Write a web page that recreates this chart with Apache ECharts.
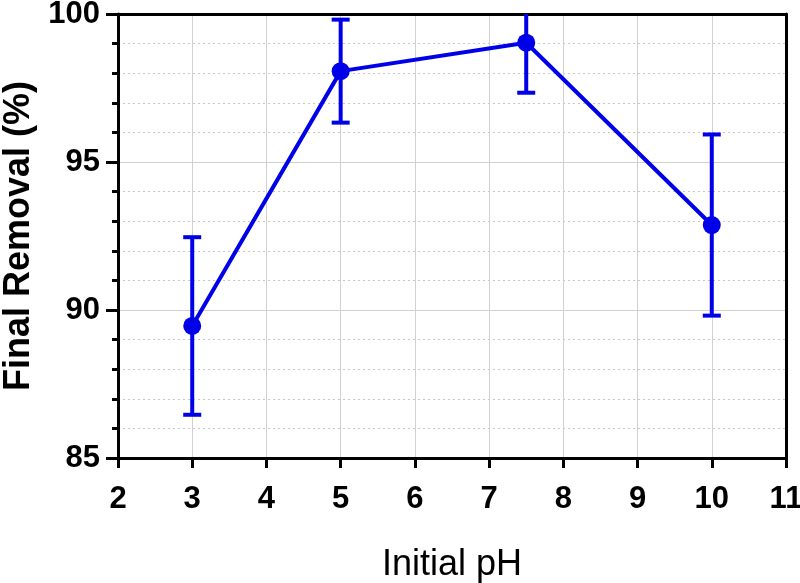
<!DOCTYPE html>
<html>
<head>
<meta charset="utf-8">
<script src="https://cdn.jsdelivr.net/npm/echarts@6/dist/echarts.min.js"></script>
<style>html,body{margin:0;padding:0;background:#fff}#c{width:800px;height:583px}</style>
</head>
<body>
<div id="c"></div>
<script>
const pH = [3, 5, 7.5, 10];
const removal = [89.46, 98.07, 99.03, 92.87];
const errorSD = [3.0, 1.74, 1.69, 3.06];

const xTicks = [2, 3, 4, 5, 6, 7, 8, 9, 10, 11];
const yTicks = [85, 90, 95, 100];

const blue = '#0000e8';
const chart = echarts.init(document.getElementById('c'));
const font = '"Liberation Sans", Arial, sans-serif';

const lineData = pH.map((x, i) => [x, removal[i]]);
const errData = pH.map((x, i) => [x, removal[i] - errorSD[i], removal[i] + errorSD[i]]);

const xMin = xTicks[0], xMax = xTicks[xTicks.length - 1];
const yMin = yTicks[0], yMax = yTicks[yTicks.length - 1];

chart.setOption({
  animation: false,
  grid: { left: 118, right: 14, top: 14, bottom: 125, show: false, containLabel: false, outerBoundsMode: 'none' },
  xAxis: [{
    type: 'value', min: xMin, max: xMax, interval: 1,
    name: 'Initial pH', nameLocation: 'middle', nameGap: 89,
    nameTextStyle: { fontSize: 36, fontFamily: font, color: '#000' },
    axisLine: { show: true, onZero: false, lineStyle: { color: '#000', width: 3 } },
    axisTick: { show: true, inside: false, length: 10, lineStyle: { color: '#000', width: 3 } },
    axisLabel: { fontSize: 31, fontWeight: 'bold', fontFamily: font, color: '#000', margin: 26 },
    splitLine: { show: true, lineStyle: { color: '#d0d0d0', width: 1 } }
  }, {
    type: 'value', position: 'top', min: xMin, max: xMax, interval: 1,
    axisLine: { show: true, onZero: false, lineStyle: { color: '#000', width: 3 } },
    axisTick: { show: false }, axisLabel: { show: false }, splitLine: { show: false }
  }],
  yAxis: [{
    type: 'value', min: yMin, max: yMax, interval: 5,
    name: 'Final Removal (%)', nameLocation: 'middle', nameGap: 80,
    nameTextStyle: { fontSize: 36, fontWeight: 'bold', fontFamily: font, color: '#000' },
    axisLine: { show: true, onZero: false, lineStyle: { color: '#000', width: 3 } },
    axisTick: { show: true, inside: false, length: 12, lineStyle: { color: '#000', width: 3 } },
    minorTick: { show: true, splitNumber: 5, length: 6, lineStyle: { color: '#000', width: 3 } },
    minorSplitLine: { show: true, lineStyle: { color: '#c8c8c8', width: 1, type: [2, 3] } },
    axisLabel: { fontSize: 31, fontWeight: 'bold', fontFamily: font, color: '#000', margin: 18 },
    splitLine: { show: true, lineStyle: { color: '#d0d0d0', width: 1 } }
  }, {
    type: 'value', position: 'right', min: yMin, max: yMax, interval: 5,
    axisLine: { show: true, onZero: false, lineStyle: { color: '#000', width: 3 } },
    axisTick: { show: false }, axisLabel: { show: false }, splitLine: { show: false }
  }],
  series: [
    {
      type: 'custom',
      clip: true,
      data: errData,
      z: 2,
      renderItem: function (params, api) {
        const x = api.value(0);
        const lo = api.coord([x, api.value(1)]);
        const hi = api.coord([x, api.value(2)]);
        const hw = 9;
        const style = { stroke: blue, lineWidth: 4 };
        return {
          type: 'group',
          children: [
            { type: 'line', shape: { x1: lo[0], y1: lo[1], x2: hi[0], y2: hi[1] }, style: style },
            { type: 'line', shape: { x1: lo[0] - hw, y1: lo[1], x2: lo[0] + hw, y2: lo[1] }, style: style },
            { type: 'line', shape: { x1: hi[0] - hw, y1: hi[1], x2: hi[0] + hw, y2: hi[1] }, style: style }
          ]
        };
      }
    },
    {
      type: 'line',
      data: lineData,
      z: 3,
      symbol: 'circle',
      symbolSize: 18,
      itemStyle: { color: blue },
      lineStyle: { color: blue, width: 4 }
    }
  ]
});
</script>
</body>
</html>
